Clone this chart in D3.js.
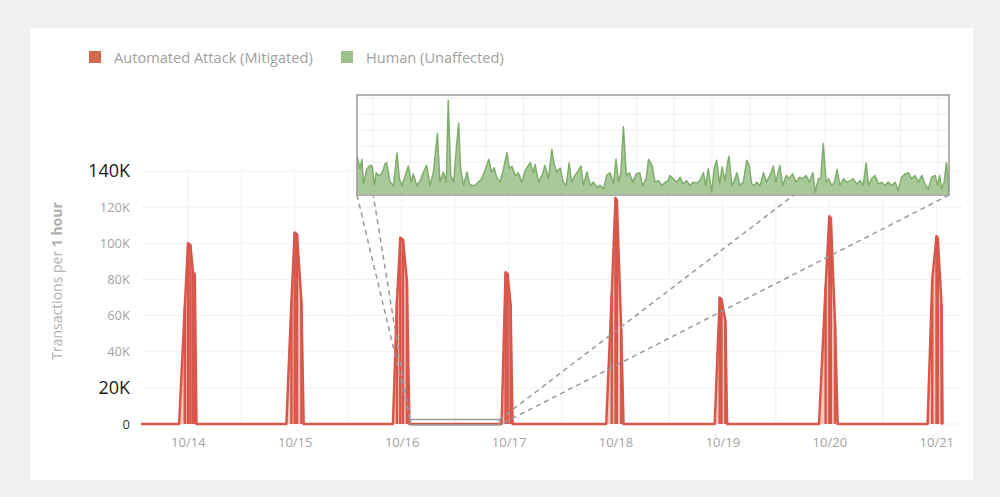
<!DOCTYPE html>
<html>
<head>
<meta charset="utf-8">
<style>
  body { margin: 0; background: #f0f0f0; }
  svg { display: block; font-family: "Open Sans", sans-serif; }
</style>
<title>Automated Attack vs Human transactions</title>
</head>
<body>
<script src="https://cdn.jsdelivr.net/npm/d3@7"></script>
<script>
// ---- data ----
var dayDates = ["2019-10-14", "2019-10-15", "2019-10-16", "2019-10-17", "2019-10-18", "2019-10-19", "2019-10-20", "2019-10-21"];
var yTicks = [0, 20000, 40000, 60000, 80000, 100000, 120000, 140000];
var bigTicks = [20000, 140000];

// attack spikes: minutes from each day's midnight, and transactions (thousands)
var spikeMinutes = [
  [-117, -40, 4, 36, 70, 94, 117],
  [-112, -44, 0, 31, 90, 121],
  [-117, -63, -18, 18, 71, 104],
  [-94, -40, -13, 27, 54],
  [-125, -50, 0, 18, 77, 108],
  [-104, -36, -13, 40, 63],
  [-139, -50, 0, 20, 77, 112],
  [-117, -54, 4, 20, 71, 85]
];
var spikeValues = [
  [0, 65, 100, 99, 84, 83, 0],
  [0, 68, 106, 105, 68, 0],
  [0, 68, 103, 102, 79, 0],
  [0, 84, 83, 66, 0],
  [0, 72, 125, 124, 52, 0],
  [0, 70, 69, 57, 0],
  [0, 76, 115, 114, 55, 0],
  [0, 80, 104, 103, 66, 0]
];
var seriesStart = "2019-10-13T13:30";
var seriesEnd = "2019-10-21T01:30";

// human traffic, zoomed window 10/16 02:00 - 22:00 (minutes from window start)
var zoomStart = "2019-10-16T02:00";
var zoomEnd = "2019-10-16T22:00";
var humanMinutes = [0, 6, 10, 13, 20, 27, 31, 35, 39, 43, 50, 57, 60, 67, 74, 81, 86, 91, 98, 104,
  110, 114, 121, 128, 135, 141, 148, 155, 163, 168, 175, 181, 185, 190, 196, 201, 206, 210, 216, 223,
  228, 233, 239, 246, 253, 262, 267, 273, 278, 283, 290, 297, 304, 309, 314, 321, 327, 334, 341, 351,
  358, 361, 368, 375, 381, 388, 395, 400, 405, 412, 418, 424, 430, 435, 442, 449, 454, 459, 466, 473,
  479, 486, 493, 500, 506, 513, 520, 525, 530, 535, 540, 546, 552, 559, 566, 573, 579, 586, 591, 598,
  604, 611, 618, 625, 631, 634, 641, 648, 655, 661, 668, 675, 682, 689, 695, 702, 707, 712, 719, 724,
  729, 735, 740, 746, 751, 754, 760, 764, 770, 776, 783, 790, 795, 800, 805, 810, 817, 824, 830, 837,
  844, 849, 857, 863, 870, 876, 883, 890, 897, 903, 910, 917, 924, 929, 935, 940, 945, 951, 956, 962,
  968, 973, 979, 986, 993, 1000, 1006, 1013, 1020, 1026, 1032, 1037, 1043, 1050, 1057, 1064, 1070, 1077, 1084, 1091,
  1097, 1104, 1111, 1118, 1124, 1131, 1138, 1145, 1151, 1158, 1165, 1172, 1177, 1181, 1185, 1190, 1195, 1200];
var humanValues = [236, 158, 217, 63, 158, 179, 173, 53, 133, 116, 126, 189, 196, 74, 53, 257, 95, 53, 116, 175,
  74, 126, 53, 84, 137, 179, 53, 137, 379, 74, 137, 74, 583, 116, 74, 274, 442, 158, 53, 137,
  63, 53, 53, 74, 95, 168, 217, 137, 164, 105, 74, 158, 259, 158, 173, 116, 133, 74, 147, 196,
  133, 185, 74, 116, 179, 95, 280, 179, 137, 162, 74, 53, 194, 74, 116, 147, 175, 53, 137, 53,
  74, 42, 53, 32, 116, 133, 63, 217, 74, 137, 421, 116, 133, 74, 126, 133, 53, 95, 217, 179,
  74, 84, 53, 74, 84, 116, 95, 74, 105, 63, 84, 53, 74, 69, 84, 133, 53, 158, 11, 158,
  211, 63, 168, 84, 189, 236, 53, 74, 133, 53, 74, 211, 179, 63, 53, 74, 53, 133, 74, 116,
  175, 74, 179, 53, 116, 95, 126, 74, 105, 95, 116, 74, 133, 11, 95, 95, 316, 74, 95, 53,
  74, 154, 53, 95, 74, 84, 95, 63, 84, 53, 194, 53, 95, 116, 63, 74, 53, 74, 53, 74,
  21, 105, 126, 133, 95, 116, 74, 116, 63, 32, 105, 116, 53, 116, 32, 74, 196, 11];

// ---- layout ----
var width = 1000, height = 497;
var red = "#d9574a", redFill = "#f3c8bf", redKey = "#d4694e";
var green = "#7fae6b", greenFill = "#a9c99a", greenKey = "#9dbf8c";
var grid = "#f1f1f1", labelGrey = "#a3a3a3";

var parseTime = d3.timeParse("%Y-%m-%dT%H:%M");
var parseDay = d3.timeParse("%Y-%m-%d");

var svg = d3.select("body").append("svg").attr("width", width).attr("height", height);
svg.append("rect").attr("x", 30).attr("y", 28).attr("width", 943).attr("height", 452).attr("fill", "#fff");

var x = d3.scaleTime().domain([parseTime(seriesStart), parseTime("2019-10-21T06:00")]).range([141, 963]);
var y = d3.scaleLinear().domain([0, 140000]).range([424, 171]);

// build attack series
var attack = [{t: parseTime(seriesStart), v: 0}];
var sticks = [];
dayDates.forEach(function(day, i) {
  var base = parseDay(day);
  spikeMinutes[i].forEach(function(m, j) {
    var p = {t: d3.timeMinute.offset(base, m), v: spikeValues[i][j] * 1000};
    attack.push(p);
    if (p.v > 0) sticks.push(p);
  });
});
attack.push({t: parseTime(seriesEnd), v: 0});

// grid
svg.append("g").selectAll("line").data(yTicks).enter().append("line")
  .attr("x1", 141).attr("x2", 963)
  .attr("y1", function(d) { return y(d); }).attr("y2", function(d) { return y(d); })
  .attr("stroke", grid).attr("stroke-width", 1);
svg.append("g").selectAll("line").data(d3.timeHour.every(12).range(x.domain()[0], x.domain()[1])).enter().append("line")
  .attr("x1", function(d) { return x(d); }).attr("x2", function(d) { return x(d); })
  .attr("y1", y(140000)).attr("y2", y(0))
  .attr("stroke", grid).attr("stroke-width", 1);

// attack area + line
svg.append("path").datum(attack)
  .attr("d", d3.area().x(function(d) { return x(d.t); }).y0(y(0)).y1(function(d) { return y(d.v); }))
  .attr("fill", redFill);
svg.append("g").selectAll("line").data(sticks).enter().append("line")
  .attr("x1", function(d) { return x(d.t); }).attr("x2", function(d) { return x(d.t); })
  .attr("y1", y(0)).attr("y2", function(d) { return y(d.v); })
  .attr("stroke", red).attr("stroke-width", 2.5);
svg.append("path").datum(attack)
  .attr("d", d3.line().x(function(d) { return x(d.t); }).y(function(d) { return y(d.v); }))
  .attr("fill", "none").attr("stroke", red).attr("stroke-width", 2.5).attr("stroke-linejoin", "round");

// axes
var yAxis = d3.axisLeft(y).tickValues(yTicks).tickSize(0).tickPadding(0)
  .tickFormat(function(d) { return d === 0 ? "0" : d / 1000 + "K"; });
var gy = svg.append("g").attr("transform", "translate(130,0)").call(yAxis);
gy.select(".domain").remove();
gy.selectAll("text").attr("font-family", "'Open Sans', sans-serif")
  .attr("font-size", function(d) { return bigTicks.indexOf(d) >= 0 ? 18 : 13; })
  .attr("fill", function(d) { return bigTicks.indexOf(d) >= 0 ? "#1a1a1a" : (d === 0 ? "#333" : labelGrey); });

var xAxis = d3.axisBottom(x).tickValues(dayDates.map(parseDay)).tickSize(0).tickPadding(14)
  .tickFormat(d3.timeFormat("%m/%d"));
var gx = svg.append("g").attr("transform", "translate(0," + y(0) + ")").call(xAxis);
gx.select(".domain").remove();
gx.selectAll("text").attr("font-family", "'Open Sans', sans-serif").attr("font-size", 13).attr("fill", labelGrey);

var yTitle = svg.append("text").attr("transform", "translate(62,281) rotate(-90)")
  .attr("text-anchor", "middle").attr("font-size", 14).attr("fill", "#b0b0b0");
yTitle.append("tspan").text("Transactions per ");
yTitle.append("tspan").attr("font-weight", "bold").text("1 hour");

// zoom window marker on main chart
var zx0 = x(parseTime(zoomStart)), zx1 = x(parseTime(zoomEnd));
var zyTop = y(2500), zyBot = y(-500);
var inset = {x0: 357, x1: 949, y0: 95, y1: 195};
var connectors = [
  [inset.x0, inset.y1, zx0, zyTop],
  [inset.x0, inset.y0, zx0, zyBot],
  [inset.x1, inset.y1, zx1, zyBot],
  [inset.x1 - 24, inset.y0, zx1, zyTop]
];
svg.append("g").selectAll("line").data(connectors).enter().append("line")
  .attr("x1", function(d) { return d[0]; }).attr("y1", function(d) { return d[1]; })
  .attr("x2", function(d) { return d[2]; }).attr("y2", function(d) { return d[3]; })
  .attr("stroke", "#999").attr("stroke-width", 1.5).attr("stroke-dasharray", "5,4");
svg.append("rect").attr("x", zx0).attr("y", zyTop).attr("width", zx1 - zx0).attr("height", zyBot - zyTop)
  .attr("fill", "none").attr("stroke", "#999").attr("stroke-width", 1.5);

// inset
var xi = d3.scaleLinear().domain([0, 1200]).range([inset.x0, inset.x1]);
var yi = d3.scaleLinear().domain([0, 600]).range([194, 98]);
var human = humanMinutes.map(function(m, i) { return {m: m, v: humanValues[i]}; });
var gi = svg.append("g");
gi.append("rect").attr("x", inset.x0).attr("y", inset.y0).attr("width", inset.x1 - inset.x0).attr("height", inset.y1 - inset.y0).attr("fill", "#fff");
gi.selectAll(".hg").data([100, 200, 300, 400, 500, 600]).enter().append("line")
  .attr("x1", inset.x0).attr("x2", inset.x1)
  .attr("y1", function(d) { return yi(d); }).attr("y2", function(d) { return yi(d); })
  .attr("stroke", "#efefef");
gi.selectAll(".vg").data(d3.range(32, 1200, 76.4)).enter().append("line")
  .attr("x1", function(d) { return xi(d); }).attr("x2", function(d) { return xi(d); })
  .attr("y1", inset.y0).attr("y2", inset.y1)
  .attr("stroke", "#efefef");
gi.append("path").datum(human)
  .attr("d", d3.area().x(function(d) { return xi(d.m); }).y0(yi(0)).y1(function(d) { return yi(d.v); }))
  .attr("fill", greenFill);
gi.append("path").datum(human)
  .attr("d", d3.line().x(function(d) { return xi(d.m); }).y(function(d) { return yi(d.v); }))
  .attr("fill", "none").attr("stroke", green).attr("stroke-width", 1.5).attr("stroke-linejoin", "round");
gi.append("rect").attr("x", inset.x0).attr("y", inset.y0).attr("width", inset.x1 - inset.x0).attr("height", inset.y1 - inset.y0)
  .attr("fill", "none").attr("stroke", "#999").attr("stroke-width", 1.5);

// legend
var legend = [
  {label: "Automated Attack (Mitigated)", color: redKey, x: 89},
  {label: "Human (Unaffected)", color: greenKey, x: 341}
];
var lg = svg.append("g").selectAll("g").data(legend).enter().append("g");
lg.append("rect").attr("x", function(d) { return d.x; }).attr("y", 51).attr("width", 12).attr("height", 12)
  .attr("fill", function(d) { return d.color; });
lg.append("text").attr("x", function(d) { return d.x + 25; }).attr("y", 62.5)
  .attr("font-size", 14.6).attr("fill", "#a0a0a0").text(function(d) { return d.label; });
</script>
</body>
</html>
